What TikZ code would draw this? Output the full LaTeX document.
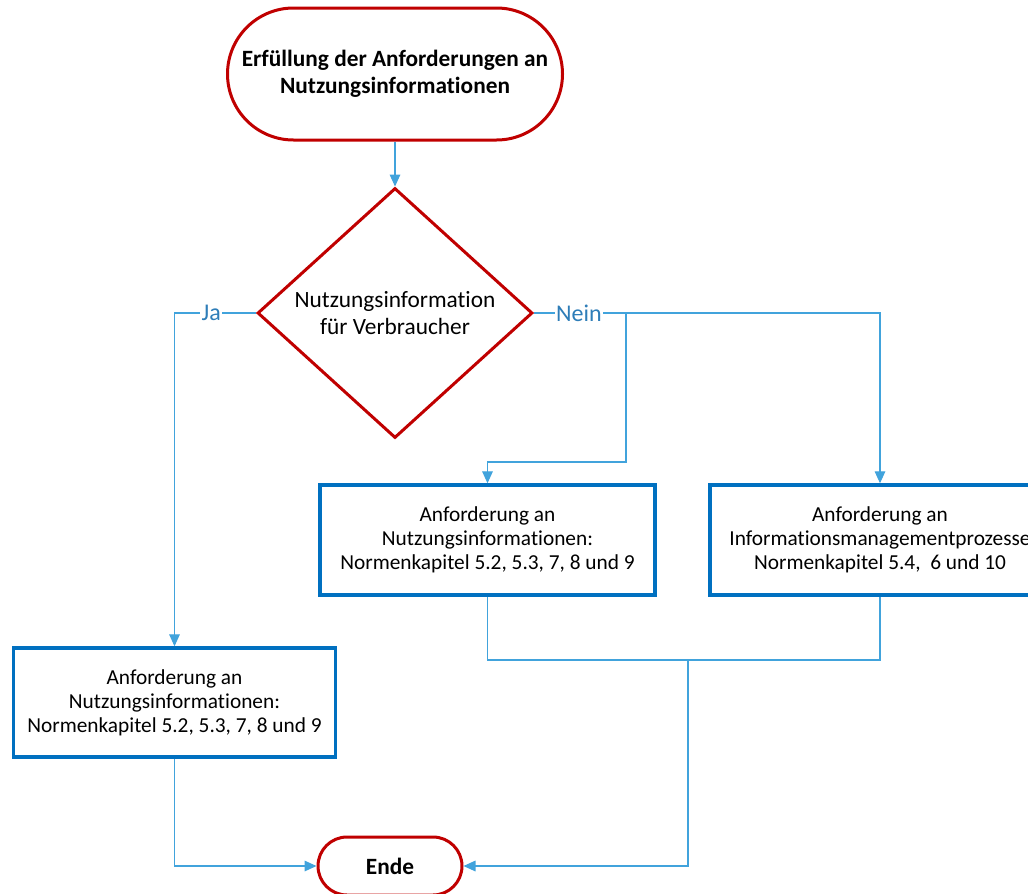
\documentclass[tikz,border=0pt]{standalone}
\usepackage{fontspec}
\setmainfont{Carlito}[Ligatures=NoCommon]
\usetikzlibrary{shapes.misc,shapes.geometric,arrows.meta}
\definecolor{termred}{HTML}{C00000}
\definecolor{boxblue}{HTML}{0070C0}
\definecolor{conncol}{HTML}{41A3DC}
\definecolor{lblcol}{HTML}{2E7DB8}
\begin{document}
\begin{tikzpicture}[x=0.75pt,y=-0.75pt,
  terminal/.style={rounded rectangle, draw=termred, line width=2.25pt, fill=white, align=center, inner sep=0pt, font=\fontsize{17.5}{20.25}\selectfont\bfseries},
  decision/.style={diamond, draw=termred, line width=2.25pt, fill=white, align=center, inner sep=0pt, font=\fontsize{17.5}{20.25}\selectfont},
  stepbox/.style={rectangle, draw=boxblue, line width=2.6pt, fill=white, align=center, inner sep=0pt, font=\fontsize{16}{18}\selectfont},
  link/.style={draw=conncol, line width=0.8pt},
  arr/.style={link, -{Triangle[length=9pt,width=8pt]}},
  lab/.style={fill=white, text=lblcol, font=\fontsize{18}{20}\selectfont, inner sep=1pt}]
\useasboundingbox (0,0) rectangle (1028,893);
\clip (0,0) rectangle (1028,893);

\node[terminal, minimum width=251.25pt, minimum height=99pt] (start) at (395,74) {Erfüllung der Anforderungen an\\Nutzungsinformationen};
\node[decision, minimum width=206.25pt, minimum height=187.5pt] (dec) at (395,313) {Nutzungsinformation\\für Verbraucher};
\node[stepbox, minimum width=251.25pt, minimum height=82.5pt] (mid) at (487.5,540) {Anforderung an\\Nutzungsinformationen:\\Normenkapitel 5.2, 5.3, 7, 8 und 9};
\node[stepbox, minimum width=255pt, minimum height=82.5pt] (right) at (880,540) {Anforderung an\\Informationsmanagementprozesse\\Normenkapitel 5.4,\ \ 6 und 10};
\node[stepbox, minimum width=241.5pt, minimum height=81.75pt] (left) at (174.5,702.5) {Anforderung an\\Nutzungsinformationen:\\Normenkapitel 5.2, 5.3, 7, 8 und 9};
\node[terminal, minimum width=108pt, minimum height=43.5pt] (ende) at (390,866) {Ende};

\coordinate (nb) at (626,313);
\coordinate (nk) at (626,462);
\coordinate (mj) at (688,660);

\draw[arr] (start.south) -- (dec.north);
\draw[arr] (dec.west) -- node[lab, pos=0.55] {Ja} (dec.west -| left.north) -- (left.north);
\draw[arr] (dec.east) -- node[lab, pos=0.13] {Nein} (dec.east -| right.north) -- (right.north);
\draw[arr] (nb) -- (nk) -- (nk -| mid.north) -- (mid.north);
\draw[link] (mid.south) -- (mid.south |- mj) -- (right.south |- mj) -- (right.south);
\draw[arr] (mj) -- (mj |- ende.east) -- (ende.east);
\draw[arr] (left.south) -- (left.south |- ende.west) -- (ende.west);
\end{tikzpicture}
\end{document}
